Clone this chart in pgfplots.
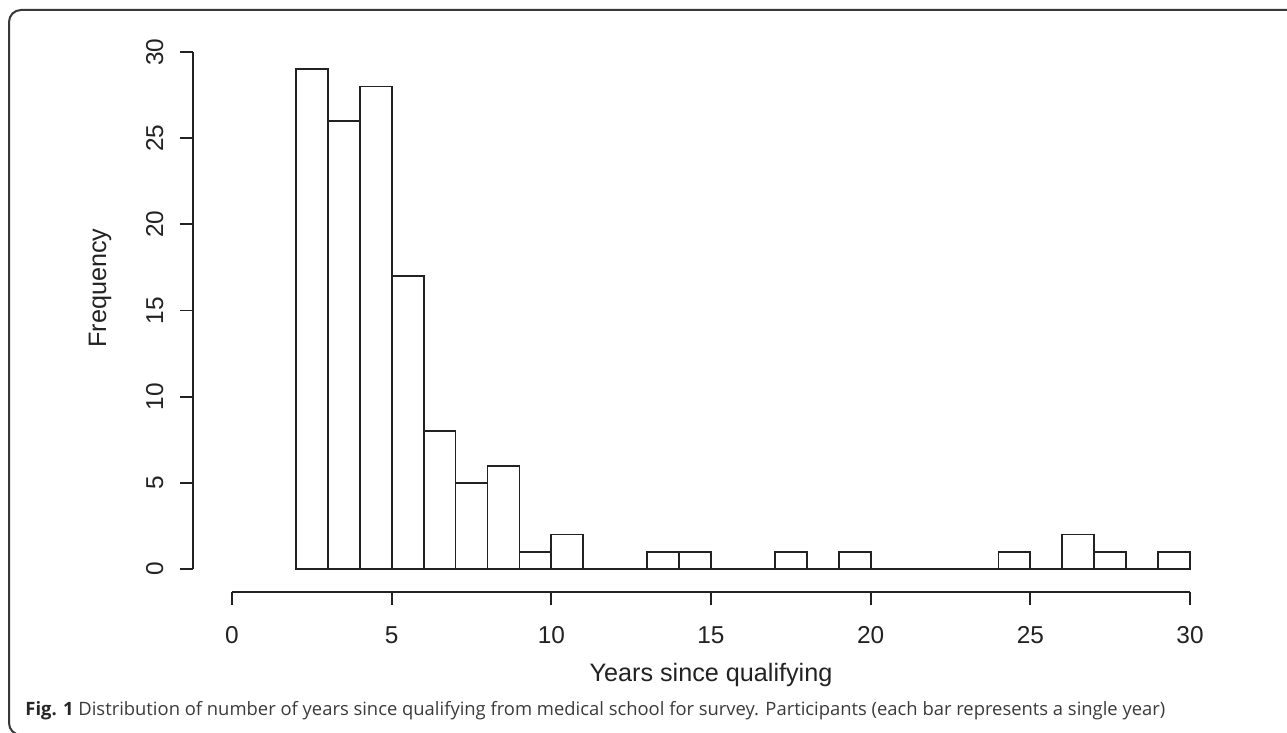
\documentclass[border=0pt]{standalone}
\usepackage{pgfplots}
\pgfplotsset{compat=1.18}
\usepackage{fontspec}
\setmainfont{Liberation Sans}
\newfontfamily\capfont{Open Sans}
\definecolor{ink}{HTML}{222222}
\definecolor{capgray}{HTML}{3A3A3A}

\begin{document}
\begin{tikzpicture}
% page = 1287 x 733 px at 0.5pt per px
\path[use as bounding box] (0,0) rectangle (643.5pt,-366.5pt);
\draw[ink!90, line width=1pt, rounded corners=6pt]
  (650pt,-5pt) -- (4.5pt,-5pt) -- (4.5pt,-367.5pt) -- (650pt,-367.5pt);

\begin{axis}[
  at={(116pt,-284.5pt)}, anchor=south west,
  scale only axis, width=479pt, height=258.5pt,
  xmin=0, xmax=30, ymin=0, ymax=30,
  axis lines=none, clip=false,
  font=\fontsize{12.2}{14}\selectfont,
]
\addplot[ybar interval, fill=white, draw=ink, line width=0.9pt]
  coordinates {(2,29)(3,26)(4,28)(5,17)(6,8)(7,5)(8,6)(9,1)(10,2)(11,0)
  (12,0)(13,1)(14,1)(15,0)(16,0)(17,1)(18,0)(19,1)(20,0)(21,0)(22,0)
  (23,0)(24,1)(25,0)(26,2)(27,1)(28,0)(29,1)(30,1)};
% R style detached axes
\draw[ink, line width=0.9pt] ([yshift=-11.5pt]axis cs:0,0) -- ([yshift=-11.5pt]axis cs:30,0);
\draw[ink, line width=0.9pt] ([xshift=-19.5pt]axis cs:0,0) -- ([xshift=-19.5pt]axis cs:0,30);
\pgfplotsinvokeforeach{0,5,10,15,20,25,30}{
  \draw[ink, line width=0.9pt] ([yshift=-11.5pt]axis cs:#1,0) -- ([yshift=-18pt]axis cs:#1,0);
  \node[ink, anchor=base, inner sep=0pt] at ([yshift=-37pt]axis cs:#1,0) {#1};
  \draw[ink, line width=0.9pt] ([xshift=-19.5pt]axis cs:0,#1) -- ([xshift=-26pt]axis cs:0,#1);
  \node[ink, anchor=base, rotate=90, inner sep=0pt] at ([xshift=-34.5pt]axis cs:0,#1) {#1};
}
\end{axis}

\node[ink, anchor=base, inner sep=0pt, font=\fontsize{12.6}{14}\selectfont]
  at (355.5pt,-340.5pt) {Years since qualifying};
\node[ink, anchor=base, rotate=90, inner sep=0pt, font=\fontsize{12.6}{14}\selectfont]
  at (53pt,-144pt) {Frequency};
\node[capgray, anchor=base west, inner sep=0pt, font=\capfont\fontsize{9.2}{11}\selectfont]
  at (12.5pt,-357.5pt) {{\bfseries\color{black!85}Fig. 1} Distribution of number of years since qualifying from medical school for survey. Participants (each bar represents a single year)};
\end{tikzpicture}
\end{document}
